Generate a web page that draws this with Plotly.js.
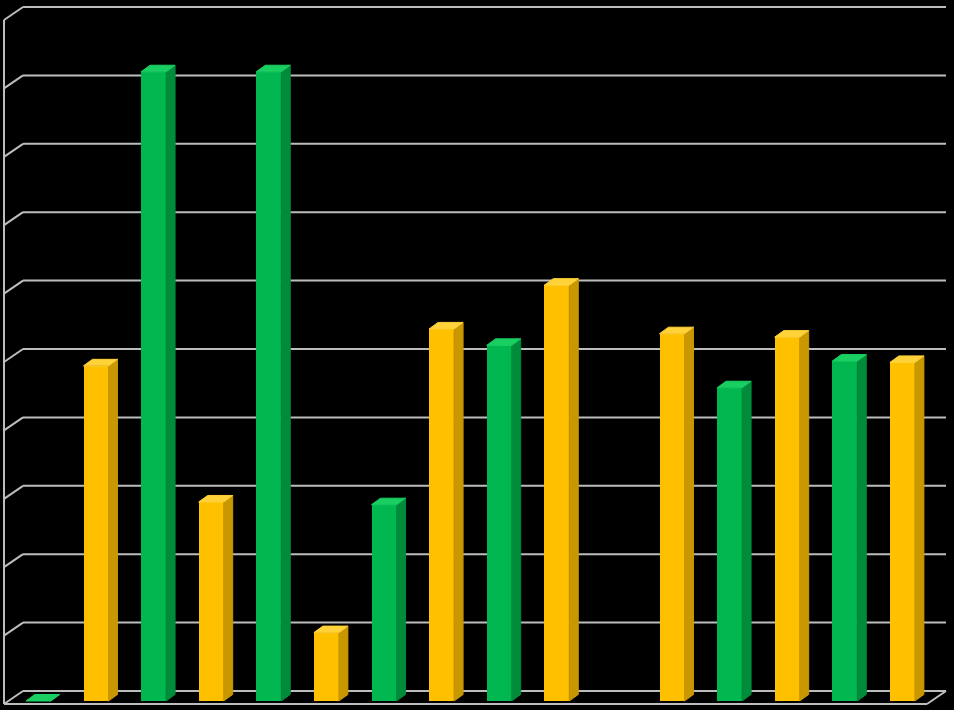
<!DOCTYPE html>
<html>
<head>
<meta charset="utf-8">
<script src="https://cdn.plot.ly/plotly-3.0.1.min.js"></script>
<style>html,body{margin:0;padding:0;background:#000;}#chart{width:954px;height:710px;}</style>
</head>
<body>
<div id="chart"></div>
<script>
// Data (no axis labels are shown in the original)
var categories = [1,2,3,4,5,6,7,8,9,10,11,12,13,14,15,16];
var values = [0, 4.9, 9.2, 2.91, 9.2, 1.0, 2.87, 5.44, 5.2, 6.08, null, 5.37, 4.58, 5.32, 4.97, 4.95];
var seriesKind = ['g','y','g','y','g','y','g','y','g','y','g','y','g','y','g','y'];
var gridTicks = [0,1,2,3,4,5,6,7,8,9,10];

var pal = {
  g: {front:'#00b84f', side:'#008c3a', top:'#19cf62'},
  y: {front:'#ffc000', side:'#c99700', top:'#ffd23a'}
};

var barW = 0.434, dx = 0.156, dy = 0.095;
var xs = categories.map(function(c){return c-1;});

var frontTrace = {
  type:'bar', x: xs, y: values, width: barW,
  marker:{color: seriesKind.map(function(k){return pal[k].front;}), line:{width:0}},
  hoverinfo:'skip', showlegend:false
};

function faces(kind, face){
  var px=[], py=[];
  for (var i=0;i<xs.length;i++){
    var v = values[i];
    if (v===null || seriesKind[i]!==kind) continue;
    var xl = xs[i]-barW/2, xr = xs[i]+barW/2;
    if (face==='side'){
      if (v<=0) continue;
      px.push(xr, xr+dx, xr+dx, xr, xr, null);
      py.push(0, dy, v+dy, v, 0, null);
    } else {
      px.push(xl, xl+dx, xr+dx, xr, xl, null);
      py.push(v, v+dy, v+dy, v, v, null);
    }
  }
  return {type:'scatter', mode:'lines', x:px, y:py, fill:'toself',
    fillcolor: pal[kind][face], line:{width:1, color:pal[kind][face]},
    hoverinfo:'skip', showlegend:false};
}

var traces = [frontTrace, faces('g','side'), faces('y','side'), faces('g','top'), faces('y','top')];

// Wall / floor geometry (px -> data conversion)
var pxPerX = 57.6, x0px = 38.4, pxPerY = 68.4, y0px = 701;
function ux(p){return (p-x0px)/pxPerX;}
function uy(p){return (y0px-p)/pxPerY;}
var gridCol = '#bdbdbd';
var shapes = [];
gridTicks.forEach(function(k){
  var yb = 691 - pxPerY*k;
  shapes.push({type:'line', layer:'below', xref:'x', yref:'y', x0:ux(23), x1:ux(946), y0:uy(yb), y1:uy(yb), line:{color:gridCol, width:2}});
  shapes.push({type:'line', layer:'below', xref:'x', yref:'y', x0:ux(4), x1:ux(23), y0:uy(yb+13), y1:uy(yb), line:{color:gridCol, width:2}});
});
// left wall front edge
shapes.push({type:'line', layer:'below', xref:'x', yref:'y', x0:ux(4), x1:ux(4), y0:uy(704), y1:uy(704-pxPerY*10), line:{color:gridCol, width:2}});
// floor front edge and right edge
shapes.push({type:'line', layer:'below', xref:'x', yref:'y', x0:ux(4), x1:ux(927), y0:uy(704), y1:uy(704), line:{color:gridCol, width:2}});
shapes.push({type:'line', layer:'below', xref:'x', yref:'y', x0:ux(927), x1:ux(946), y0:uy(704), y1:uy(691), line:{color:gridCol, width:2}});

var layout = {
  width:954, height:710,
  margin:{l:0,r:0,t:0,b:0},
  paper_bgcolor:'#000', plot_bgcolor:'#000',
  showlegend:false,
  xaxis:{range:[ux(0), ux(954)], showgrid:false, zeroline:false, showticklabels:false, showline:false, fixedrange:true},
  yaxis:{range:[uy(710), uy(0)], showgrid:false, zeroline:false, showticklabels:false, showline:false, fixedrange:true},
  shapes: shapes,
  bargap:0
};

Plotly.newPlot('chart', traces, layout, {displayModeBar:false, staticPlot:true});
</script>
</body>
</html>
